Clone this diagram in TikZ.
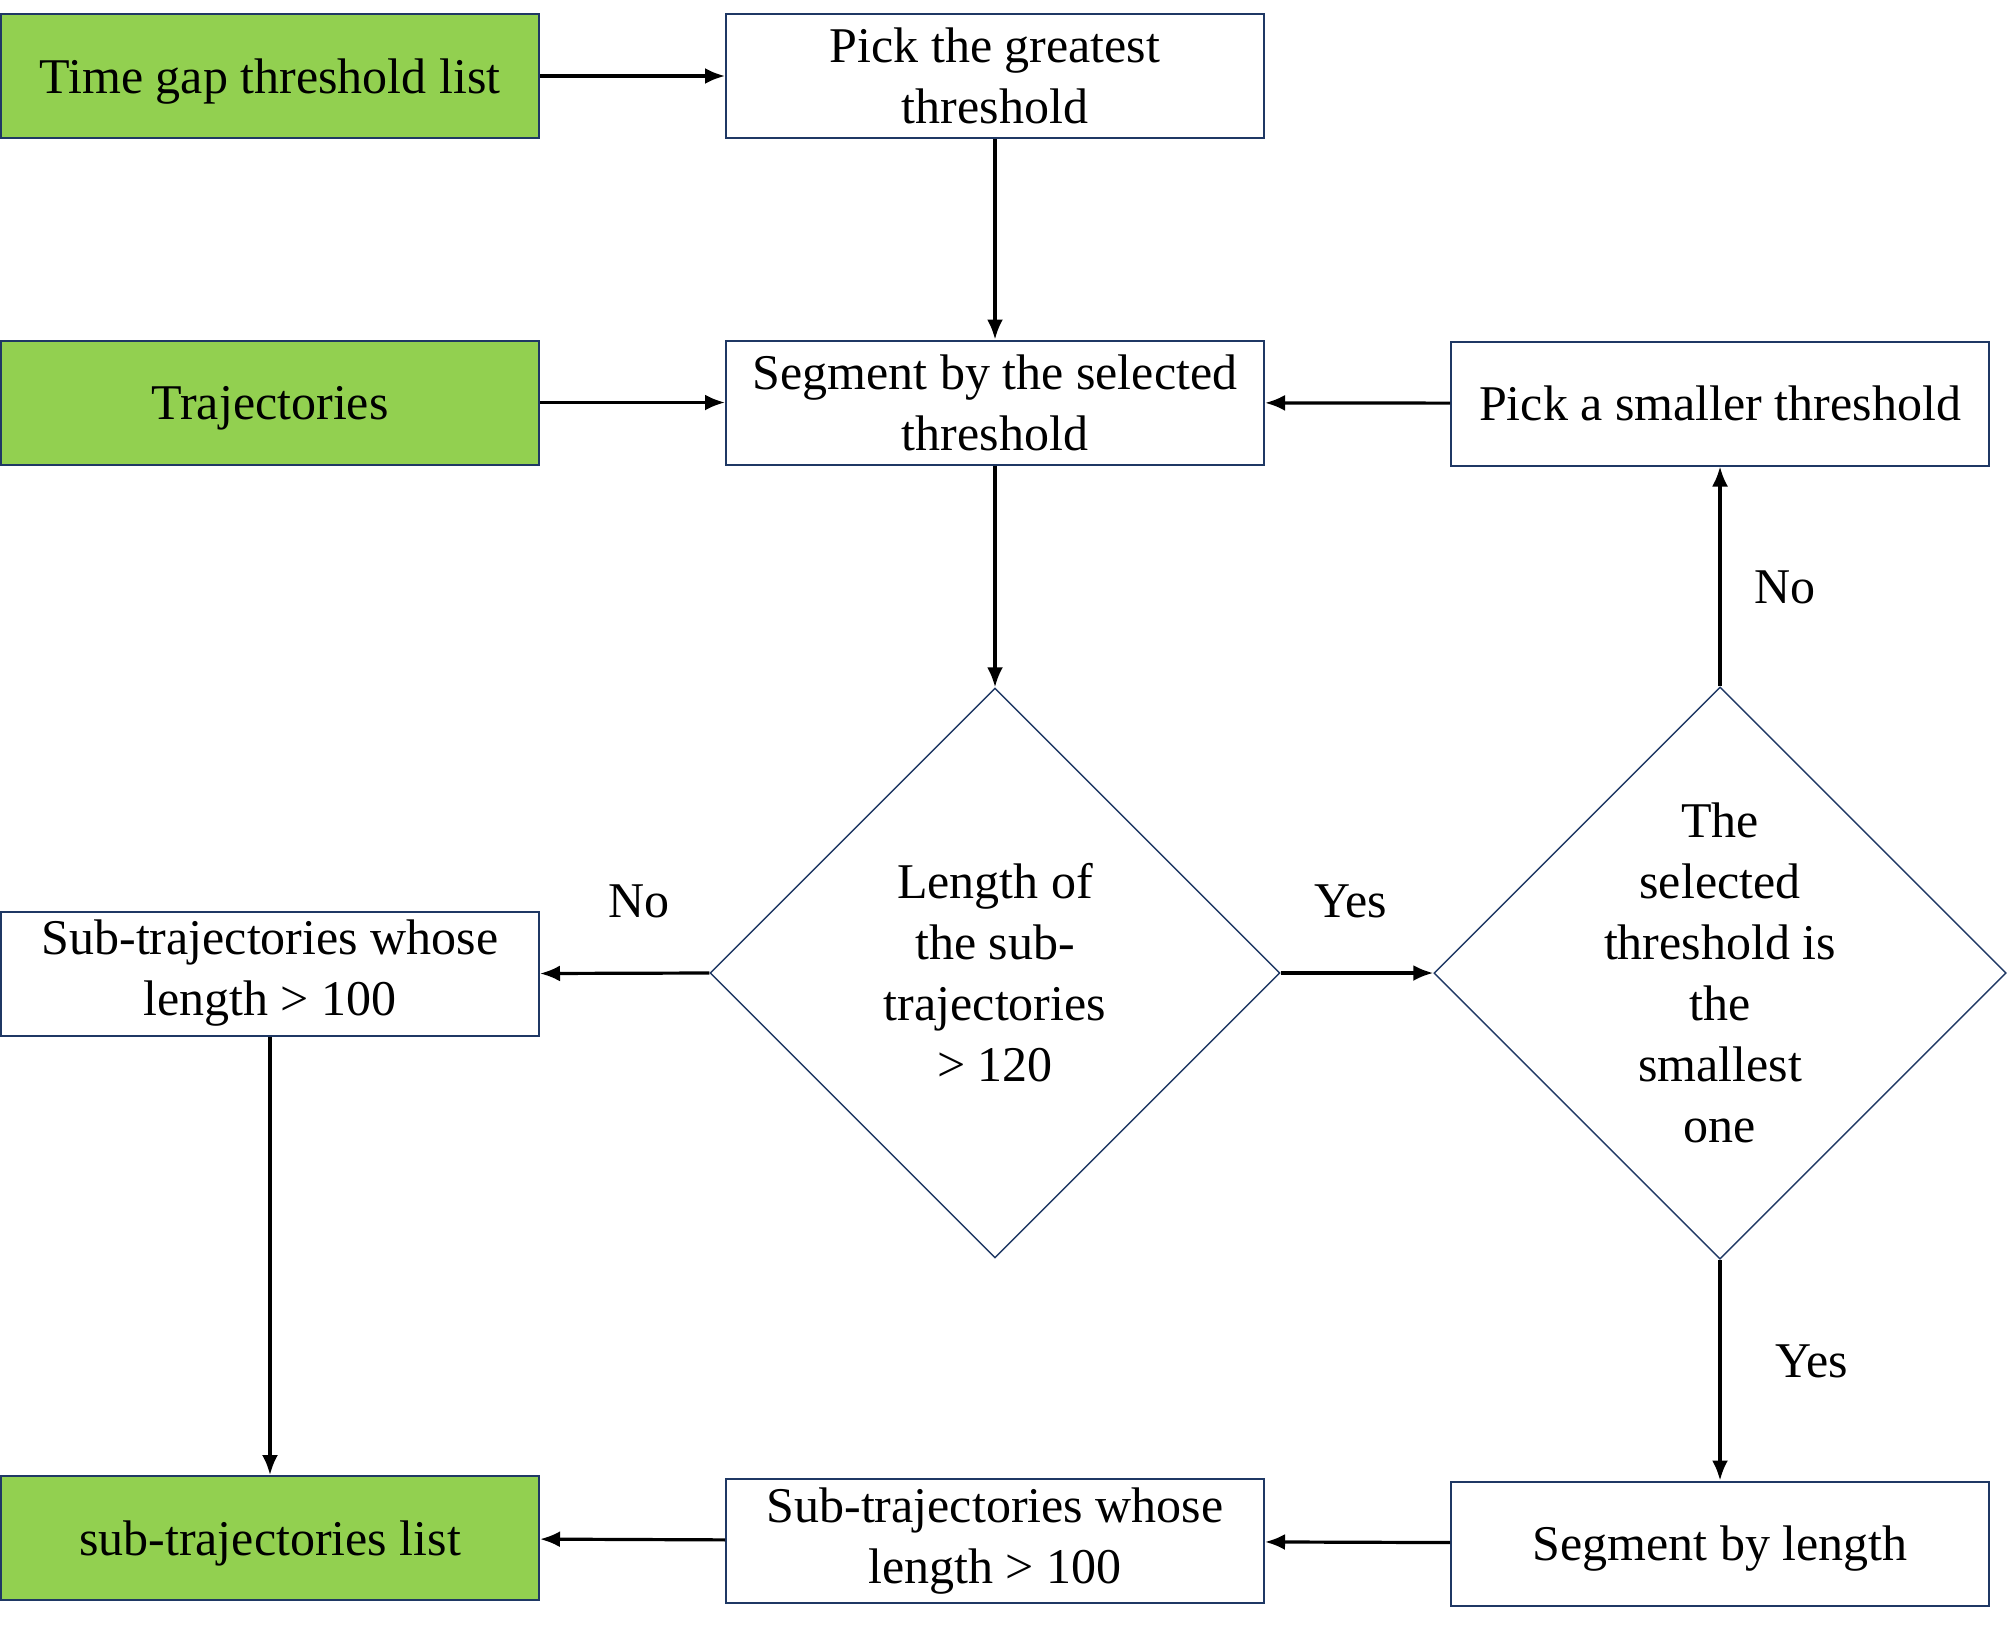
\documentclass[tikz,border=0pt]{standalone}
\usepackage{fontspec}
\setmainfont{Liberation Serif}
\usetikzlibrary{shapes.geometric,arrows.meta}
\definecolor{boxline}{RGB}{31,56,100}
\definecolor{inputgreen}{RGB}{146,208,80}

\begin{document}
\begin{tikzpicture}[x=0.5pt,y=-0.5pt,
    every node/.style={font=\fontsize{25}{30.5}\selectfont, align=center},
    box/.style={draw=boxline, line width=1pt, fill=white, rectangle,
                minimum width=269pt, minimum height=62pt, inner sep=0pt},
    gbox/.style={box, fill=inputgreen},
    oneline/.style={text depth=0pt},
    decision/.style={draw=boxline, line width=0.7pt, diamond, aspect=1,
                     minimum width=285pt, minimum height=285pt, inner sep=0pt},
    flow/.style={line width=1.6pt, -{Latex[length=10pt,width=8pt]}}]

    \useasboundingbox (0,0) rectangle (2008,1633);

    % Inputs
    \node [gbox, oneline] (tgap) at (270, 76)   {Time gap threshold list};
    \node [gbox, oneline] (traj) at (270, 402.5) {Trajectories};

    % Main column
    \node [box] (pickg)  at (995, 76)    {Pick the greatest\\threshold};
    \node [box] (segsel) at (995, 402.5) {Segment by the selected\\threshold};
    \node [decision] (len) at (995, 973) {Length of\\the sub-\\trajectories\\> 120};

    % Right column
    \node [box, oneline] (picks) at (1720, 403.5) {Pick a smaller threshold};
    \node [decision] (small) at (1720, 973) {The\\selected\\threshold is\\the\\smallest\\one};
    \node [box, oneline] (seglen) at (1720, 1543.5) {Segment by length};

    % Outputs
    \node [box]  (subl)  at (270, 973.5) {Sub-trajectories whose\\length > 100};
    \node [box]  (subb)  at (995, 1541)  {Sub-trajectories whose\\length > 100};
    \node [gbox, oneline] (slist) at (270, 1538)  {sub-trajectories list};

    \draw [flow] (tgap) -- (pickg);
    \draw [flow] (traj) -- (segsel);
    \draw [flow] (pickg) -- (segsel);
    \draw [flow] (picks) -- (segsel);
    \draw [flow] (segsel) -- (len);

    % Decisions
    \draw [flow] (len.west) -- (subl.east);
    \draw [flow] (len.east) -- (small.west);
    \draw [flow] (small.north) -- (picks.south);
    \draw [flow] (small.south) -- (seglen.north);

    \node (no1)  at (639, 901)  {No};
    \node (yes1) at (1351, 901) {Yes};
    \node (no2)  at (1785, 587) {No};
    \node (yes2) at (1812, 1361) {Yes};

    % Collect the sub-trajectories
    \draw [flow] (seglen) -- (subb);
    \draw [flow] (subb) -- (slist);
    \draw [flow] (subl) -- (slist);

\end{tikzpicture}
\end{document}
